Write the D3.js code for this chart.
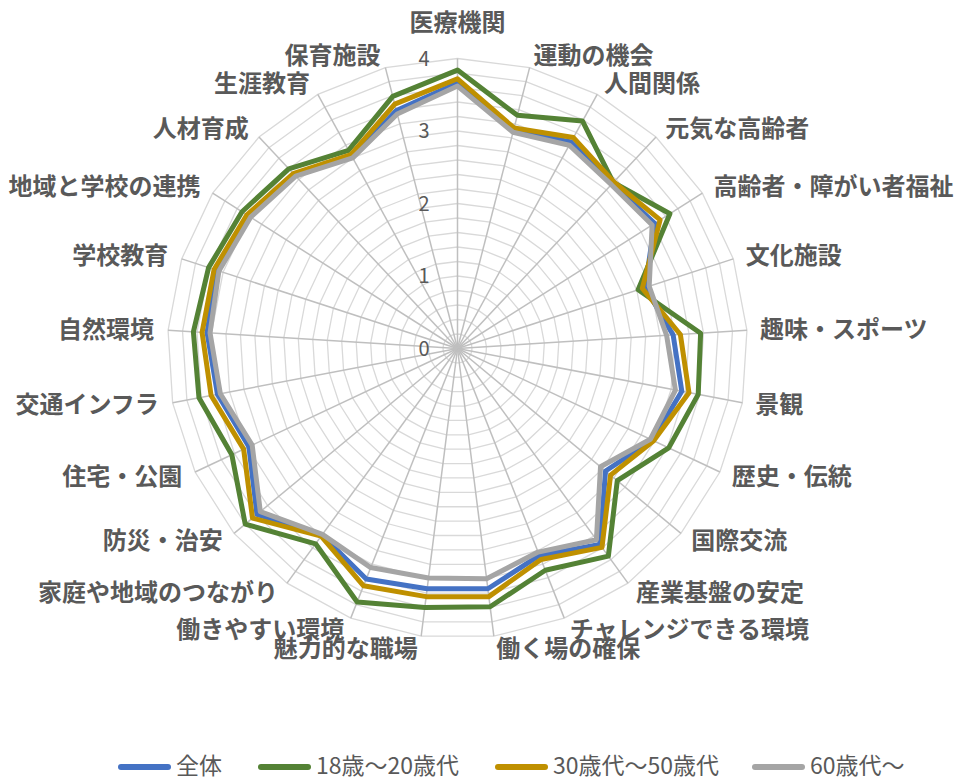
<!DOCTYPE html>
<html>
<head>
<meta charset="utf-8">
<script src="https://cdn.jsdelivr.net/npm/d3@7"></script>
<style>
  body { margin: 0; background: #fff; }
  svg { font-family: "Noto Sans CJK JP", "Noto Sans", sans-serif; }
</style>
</head>
<body>
<script>
const categories = ["医療機関", "運動の機会", "人間関係", "元気な高齢者", "高齢者・障がい者福祉", "文化施設",
  "趣味・スポーツ", "景観", "歴史・伝統", "国際交流", "産業基盤の安定", "チャレンジできる環境",
  "働く場の確保", "魅力的な職場", "働きやすい環境", "家庭や地域のつながり", "防災・治安", "住宅・公園",
  "交通インフラ", "自然環境", "学校教育", "地域と学校の連携", "人材育成", "生涯教育", "保育施設"];

const seriesNames = ["全体", "18歳～20歳代", "30歳代～50歳代", "60歳代～"];
const seriesColors = ["#4472C4", "#548235", "#BF9000", "#A5A5A5"];

const allValues = [3.66, 3.10, 3.25, 3.12, 3.22, 2.72, 2.98, 3.15, 2.97, 2.65, 3.34, 3.07, 3.34,
  3.34, 3.42, 3.18, 3.59, 3.18, 3.37, 3.46, 3.50, 3.41, 3.28, 3.02, 3.39];
const age1820 = [3.84, 3.32, 3.58, 3.14, 3.47, 2.62, 3.36, 3.38, 3.22, 2.86, 3.54, 3.29, 3.59,
  3.60, 3.76, 3.33, 3.80, 3.44, 3.63, 3.65, 3.61, 3.52, 3.40, 3.12, 3.59];
const age3050 = [3.72, 3.14, 3.32, 3.15, 3.31, 2.68, 3.08, 3.25, 2.99, 2.74, 3.39, 3.13, 3.45,
  3.45, 3.52, 3.20, 3.67, 3.26, 3.46, 3.53, 3.53, 3.44, 3.31, 3.05, 3.48];
const age60 = [3.62, 3.08, 3.20, 3.10, 3.18, 2.78, 2.89, 3.06, 2.94, 2.56, 3.26, 3.02, 3.20,
  3.19, 3.25, 3.17, 3.53, 3.13, 3.33, 3.42, 3.46, 3.38, 3.26, 3.00, 3.34];

const seriesValues = [allValues, age1820, age3050, age60];
const tickValues = [0, 1, 2, 3, 4];

const w = 956, h = 781;
const cx = 457.5, cy = 348.5;
const R = 290;

const svg = d3.select("body").append("svg")
  .attr("width", w)
  .attr("height", h);

const rScale = d3.scaleLinear().domain([0, 4]).range([0, R]);
const step = 2 * Math.PI / categories.length;
const angle = i => i * step;

const g = svg.append("g").attr("transform", `translate(${cx},${cy})`);

// grid rings every 0.2
const ringValues = d3.range(1, 21).map(k => k * 0.2);
const ringLine = d3.lineRadial().curve(d3.curveLinearClosed);
g.selectAll("path.ring")
  .data(ringValues)
  .enter()
  .append("path")
  .attr("class", "ring")
  .attr("d", v => ringLine(categories.map((c, i) => [angle(i), rScale(v)])))
  .attr("fill", "none")
  .attr("stroke", "#d9d9d9")
  .attr("stroke-width", 1.3);

// spokes
g.selectAll("line.spoke")
  .data(categories)
  .enter()
  .append("line")
  .attr("class", "spoke")
  .attr("x1", 0).attr("y1", 0)
  .attr("x2", (c, i) => rScale(4) * Math.sin(angle(i)))
  .attr("y2", (c, i) => -rScale(4) * Math.cos(angle(i)))
  .attr("stroke", "#bfbfbf")
  .attr("stroke-width", 1.5);

// tick labels
g.selectAll("text.tick")
  .data(tickValues)
  .enter()
  .append("text")
  .attr("class", "tick")
  .attr("x", -28)
  .attr("y", v => -rScale(v))
  .attr("dy", "0.35em")
  .attr("text-anchor", "end")
  .style("font-size", "20px")
  .style("fill", "#595959")
  .text(v => v);

// series
const radarLine = d3.lineRadial()
  .angle((d, i) => angle(i))
  .radius(d => rScale(d))
  .curve(d3.curveLinearClosed);

g.selectAll("path.series")
  .data(seriesValues)
  .enter()
  .append("path")
  .attr("class", "series")
  .attr("d", d => radarLine(d))
  .attr("fill", "none")
  .attr("stroke", (d, i) => seriesColors[i])
  .attr("stroke-width", 5)
  .attr("stroke-linejoin", "round");

// category labels
const labelR = R + 12;
g.selectAll("text.cat")
  .data(categories)
  .enter()
  .append("text")
  .attr("class", "cat")
  .attr("x", (c, i) => {
    const s = Math.sin(angle(i));
    if (Math.abs(s) < 0.01) return 0;
    return labelR * s + (s > 0 ? 1 : -2);
  })
  .attr("y", (c, i) => i === 0 ? -R - 36 : -labelR * Math.cos(angle(i)))
  .attr("dy", "0.35em")
  .attr("text-anchor", (c, i) => {
    const s = Math.sin(angle(i));
    if (Math.abs(s) < 0.01) return "middle";
    return s > 0 ? "start" : "end";
  })
  .style("font-size", "24px")
  .style("font-weight", "bold")
  .style("fill", "#595959")
  .text(c => c);

// legend
const legendX = [118, 258, 495, 752];
const legend = svg.append("g").attr("transform", "translate(0, 766)");
seriesNames.forEach((name, i) => {
  legend.append("line")
    .attr("x1", legendX[i] + 3)
    .attr("x2", legendX[i] + 50)
    .attr("y1", 1).attr("y2", 1)
    .attr("stroke", seriesColors[i])
    .attr("stroke-width", 6)
    .attr("stroke-linecap", "round");
  legend.append("text")
    .attr("x", legendX[i] + 58)
    .attr("y", 0)
    .attr("dy", "0.35em")
    .style("font-size", "23px")
    .style("fill", "#595959")
    .text(name);
});
</script>
</body>
</html>
